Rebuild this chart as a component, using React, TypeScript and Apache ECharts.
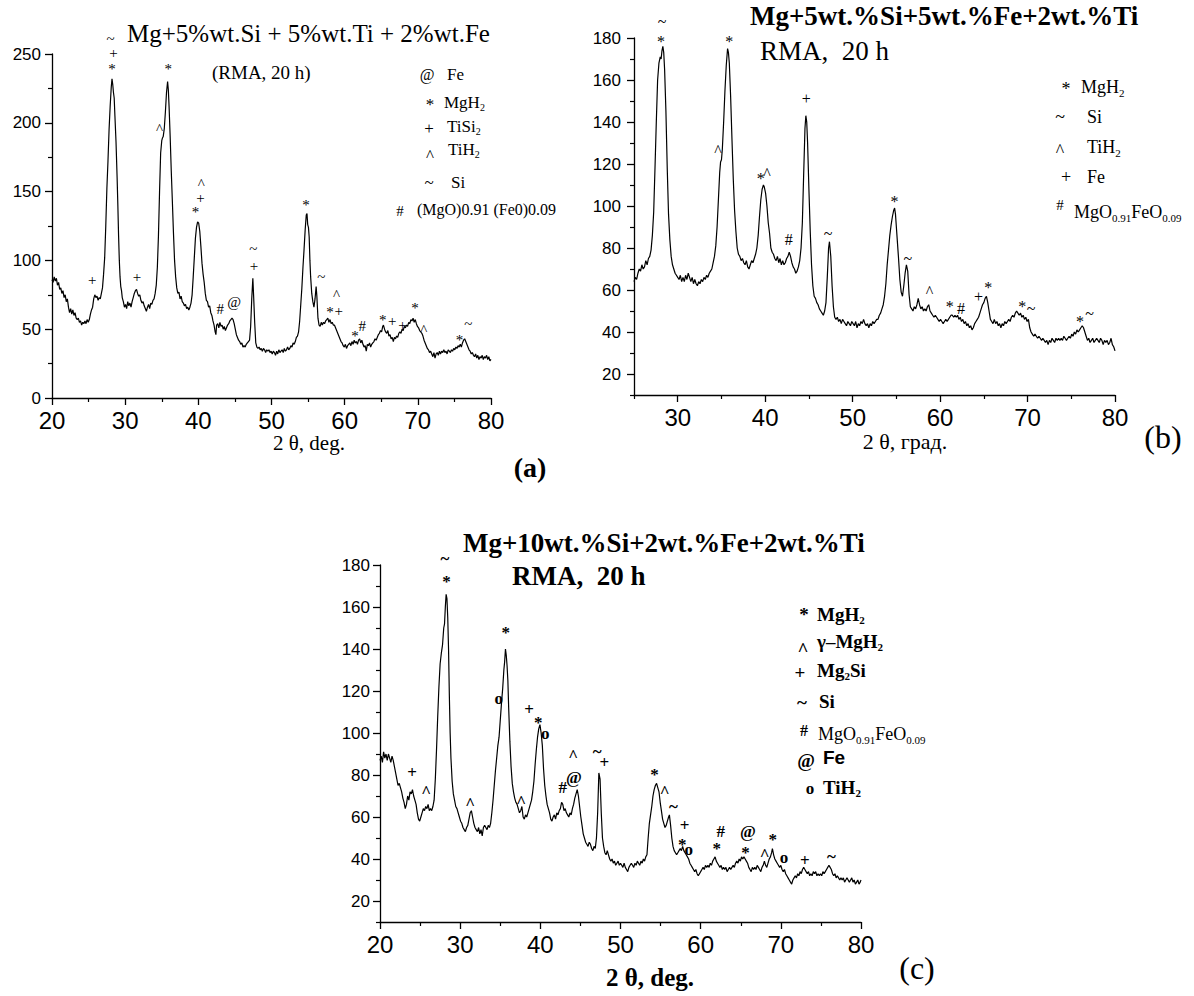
import React, { useEffect, useRef } from "react";
import * as echarts from "echarts";

const SERIF = "'Liberation Serif','Times New Roman',serif";
const SANS = "'Liberation Sans',Arial,sans-serif";

// ---------- Panel (a): Mg+5%wt.Si + 5%wt.Ti + 2%wt.Fe ----------
const scanA: [number, number][] = [
  [20.0,86],[20.15,84],[20.3,88],[20.45,85],[20.6,87],[20.75,82],[20.9,84],[21.05,79],[21.2,80],[21.35,76],[21.5,78],[21.65,73],[21.8,75],[21.95,70],[22.1,72],[22.25,66],[22.4,62],[22.55,65],[22.7,61],[22.85,64],
  [23.0,60],[23.15,62],[23.3,58],[23.45,57],[23.6,58],[23.75,55],[23.9,56],[24.05,53],[24.2,55],[24.35,54],[24.5,56],[24.65,54],[24.8,57],[24.95,55],[25.1,57],[25.25,61],[25.4,64],[25.55,66],[25.7,72],[25.85,75],
  [26.0,73],[26.15,74],[26.3,71],[26.45,73],[26.6,72],[26.75,76],[26.9,80],[27.05,90],[27.2,102],[27.35,125],[27.5,152],[27.65,172],[27.8,195],[27.95,212],[28.1,226],[28.2,232],[28.3,228],[28.4,222],[28.5,218],[28.6,205],
  [28.75,186],[28.9,160],[29.0,140],[29.1,118],[29.2,100],[29.3,88],[29.4,81],[29.5,78],[29.6,73],[29.75,70],[29.9,66],[30.05,68],[30.2,65],[30.35,70],[30.5,67],[30.65,69],[30.8,66],[30.95,70],[31.1,73],[31.25,76],
  [31.4,78],[31.55,79],[31.7,76],[31.85,74],[32.0,75],[32.15,71],[32.3,69],[32.45,70],[32.6,67],[32.75,65],[32.9,63],[33.05,66],[33.2,68],[33.35,65],[33.5,69],[33.65,68],[33.8,71],[33.95,72],[34.1,76],[34.25,82],
  [34.4,95],[34.55,118],[34.7,150],[34.85,178],[35.0,187],[35.1,189],[35.2,190],[35.35,196],[35.5,208],[35.65,222],[35.8,230],[35.9,224],[36.0,212],[36.15,190],[36.3,165],[36.45,143],[36.6,120],[36.75,100],[36.9,88],[37.05,80],
  [37.2,76],[37.35,77],[37.5,72],[37.65,74],[37.8,70],[37.95,69],[38.1,67],[38.25,68],[38.4,65],[38.55,66],[38.7,64],[38.85,66],[39.0,69],[39.15,75],[39.3,88],[39.45,102],[39.6,116],[39.75,124],[39.9,128],[40.05,127],
  [40.2,121],[40.35,110],[40.5,98],[40.65,90],[40.8,84],[40.95,76],[41.1,71],[41.25,70],[41.4,66],[41.55,67],[41.7,62],[41.85,60],[42.0,56],[42.15,53],[42.3,48],[42.4,46],[42.5,53],[42.65,54],[42.8,51],[42.95,55],
  [43.1,52],[43.25,53],[43.4,50],[43.55,52],[43.7,49],[43.85,51],[44.0,53],[44.15,54],[44.3,56],[44.45,57],[44.6,58],[44.75,57],[44.9,54],[45.05,50],[45.2,46],[45.35,44],[45.5,42],[45.65,41],[45.8,39],[45.95,40],
  [46.1,37],[46.25,38],[46.4,37],[46.55,39],[46.7,40],[46.85,41],[47.0,42],[47.15,52],[47.3,72],[47.45,87],[47.55,75],[47.7,55],[47.85,40],[48.0,37],[48.15,36],[48.3,37],[48.45,35],[48.6,36],[48.75,34],[48.9,36],
  [49.05,35],[49.2,33],[49.35,35],[49.5,34],[49.65,35],[49.8,33],[49.95,34],[50.1,32],[50.25,34],[50.4,33],[50.55,31],[50.7,34],[50.85,32],[51.0,35],[51.15,33],[51.3,34],[51.45,35],[51.6,33],[51.75,36],[51.9,34],
  [52.05,35],[52.2,37],[52.35,35],[52.5,36],[52.65,38],[52.8,37],[52.95,40],[53.1,39],[53.25,41],[53.4,44],[53.55,45],[53.7,48],[53.85,56],[54.0,68],[54.15,80],[54.3,95],[54.45,108],[54.6,122],[54.75,133],[54.85,134],
  [54.95,126],[55.05,124],[55.15,117],[55.25,100],[55.35,88],[55.5,76],[55.65,70],[55.8,66],[55.95,72],[56.1,81],[56.2,74],[56.35,58],[56.5,53],[56.65,52],[56.8,55],[56.95,53],[57.1,55],[57.25,54],[57.4,56],[57.55,57],
  [57.7,58],[57.85,55],[58.0,57],[58.15,54],[58.3,55],[58.45,53],[58.6,53],[58.75,51],[58.9,49],[59.05,47],[59.2,45],[59.35,43],[59.5,41],[59.65,40],[59.8,38],[59.95,37],[60.1,39],[60.25,36],[60.4,38],[60.55,39],
  [60.7,40],[60.85,38],[61.0,41],[61.15,39],[61.3,42],[61.45,40],[61.6,41],[61.75,39],[61.9,42],[62.05,43],[62.2,40],[62.35,42],[62.5,39],[62.65,37],[62.8,38],[62.95,34],[63.1,39],[63.25,38],[63.4,40],[63.55,37],
  [63.7,39],[63.85,40],[64.0,41],[64.15,43],[64.3,42],[64.45,44],[64.6,46],[64.75,47],[64.9,49],[65.05,48],[65.2,52],[65.3,53],[65.45,50],[65.6,48],[65.75,47],[65.9,49],[66.05,45],[66.2,46],[66.35,43],[66.5,44],
  [66.65,41],[66.8,44],[66.95,43],[67.1,45],[67.25,44],[67.4,47],[67.55,48],[67.7,47],[67.85,50],[68.0,49],[68.15,52],[68.3,51],[68.45,53],[68.6,52],[68.75,55],[68.9,54],[69.05,57],[69.2,56],[69.35,58],[69.5,55],
  [69.65,57],[69.8,54],[69.95,52],[70.1,51],[70.25,49],[70.4,48],[70.55,47],[70.7,45],[70.85,42],[71.0,40],[71.15,38],[71.3,36],[71.45,35],[71.6,33],[71.75,34],[71.9,32],[72.05,30],[72.2,33],[72.35,29],[72.5,32],
  [72.65,33],[72.8,31],[72.95,34],[73.1,32],[73.25,34],[73.4,33],[73.55,35],[73.7,33],[73.85,34],[74.0,32],[74.15,35],[74.3,34],[74.45,33],[74.6,35],[74.75,34],[74.9,36],[75.05,35],[75.2,37],[75.35,36],[75.5,38],
  [75.65,37],[75.8,39],[75.95,37],[76.1,40],[76.25,42],[76.4,43],[76.55,41],[76.7,39],[76.85,37],[77.0,35],[77.15,34],[77.3,32],[77.45,33],[77.6,31],[77.75,30],[77.9,32],[78.05,29],[78.2,31],[78.35,28],[78.5,30],
  [78.65,29],[78.8,31],[78.95,28],[79.1,30],[79.25,29],[79.4,31],[79.55,28],[79.7,30],[79.85,27],[80.0,28]
];
const markersA: [number, number, string][] = [
  [25.5,86,"+"],[31.6,88,"+"],[28.0,261,"~"],[28.4,251,"+"],[28.2,242,"*"],[35.9,242,"*"],[34.7,198,"^"],
  [39.6,138,"*"],[40.3,145,"+"],[40.4,158,"^"],[43.0,65,"#"],[44.9,70,"@"],[47.5,108,"~"],[47.6,96,"+"],
  [54.7,143,"*"],[56.8,88,"~"],[58.0,65,"*"],[58.9,77,"^"],[59.2,63,"+"],[61.4,48,"*"],[62.4,52,"#"],
  [65.2,59,"*"],[66.5,56,"+"],[67.9,53,"+"],[69.6,68,"*"],[70.8,52,"^"],[75.7,45,"*"],[76.9,54,"~"]
];
const xMajorA = [20, 30, 40, 50, 60, 70, 80];
const xMinorA = [25, 35, 45, 55, 65, 75];
const yMajorA = [0, 50, 100, 150, 200, 250];
const yMinorA = [25, 75, 125, 175, 225];

// ---------- Panel (b): Mg+5wt.%Si+5wt.%Fe+2wt.%Ti ----------
const scanB: [number, number][] = [
  [25.0,64],[25.15,66],[25.3,65],[25.45,68],[25.6,70],[25.75,69],[25.9,72],[26.05,70],[26.2,71],[26.35,74],[26.5,72],[26.65,75],[26.8,76],[26.95,79],[27.1,86],[27.25,97],[27.4,118],[27.55,140],[27.7,160],[27.85,168],
  [28.0,171],[28.1,170],[28.2,174],[28.3,176],[28.4,173],[28.5,165],[28.65,145],[28.8,118],[28.95,96],[29.1,84],[29.25,76],[29.4,72],[29.55,70],[29.7,68],[29.85,67],[30.0,66],[30.15,65],[30.3,67],[30.45,64],[30.6,66],
  [30.75,64],[30.9,67],[31.05,65],[31.2,68],[31.35,66],[31.5,64],[31.65,66],[31.8,63],[31.95,65],[32.1,63],[32.25,62],[32.4,64],[32.55,63],[32.7,65],[32.85,64],[33.0,66],[33.15,65],[33.3,67],[33.45,66],[33.6,68],
  [33.75,69],[33.9,70],[34.05,73],[34.2,76],[34.35,81],[34.5,90],[34.65,103],[34.8,116],[34.9,121],[35.0,122],[35.1,127],[35.25,140],[35.4,155],[35.55,167],[35.7,175],[35.8,173],[35.9,168],[36.05,152],[36.2,132],[36.35,113],
  [36.5,98],[36.65,88],[36.8,80],[36.95,77],[37.1,76],[37.25,74],[37.4,75],[37.55,73],[37.7,72],[37.85,74],[38.0,71],[38.15,70],[38.3,72],[38.45,74],[38.6,73],[38.75,75],[38.9,77],[39.05,80],[39.2,86],[39.35,95],
  [39.5,103],[39.65,108],[39.8,110],[39.9,109],[40.05,106],[40.2,100],[40.35,92],[40.5,87],[40.65,80],[40.8,78],[40.95,77],[41.1,75],[41.25,74],[41.4,76],[41.55,73],[41.7,75],[41.85,72],[42.0,74],[42.15,72],[42.3,73],
  [42.45,75],[42.6,76],[42.75,78],[42.9,76],[43.05,73],[43.2,71],[43.35,70],[43.5,68],[43.65,69],[43.8,71],[43.95,74],[44.1,80],[44.25,92],[44.4,115],[44.55,137],[44.65,143],[44.75,140],[44.85,130],[45.0,108],[45.15,88],
  [45.3,72],[45.45,62],[45.6,57],[45.75,56],[45.9,54],[46.05,53],[46.2,51],[46.35,50],[46.5,49],[46.65,48],[46.8,50],[46.95,54],[47.1,66],[47.25,80],[47.35,83],[47.5,76],[47.65,62],[47.8,52],[47.95,47],[48.1,46],
  [48.25,47],[48.4,45],[48.55,46],[48.7,44],[48.85,46],[49.0,45],[49.15,44],[49.3,43],[49.45,45],[49.6,44],[49.75,43],[49.9,45],[50.05,44],[50.2,43],[50.35,45],[50.5,42],[50.65,44],[50.8,43],[50.95,45],[51.1,44],
  [51.25,46],[51.4,44],[51.55,43],[51.7,44],[51.85,42],[52.0,44],[52.15,43],[52.3,45],[52.45,44],[52.6,45],[52.75,46],[52.9,46],[53.05,48],[53.2,49],[53.35,51],[53.5,53],[53.65,57],[53.8,63],[53.95,72],[54.1,79],
  [54.25,86],[54.4,91],[54.55,95],[54.7,98],[54.8,99],[54.9,96],[55.0,90],[55.1,84],[55.25,75],[55.4,65],[55.55,59],[55.7,57],[55.85,62],[56.0,68],[56.15,72],[56.3,69],[56.45,58],[56.6,52],[56.75,51],[56.9,50],
  [57.05,52],[57.2,51],[57.35,53],[57.5,56],[57.65,53],[57.8,51],[57.95,52],[58.1,50],[58.25,51],[58.4,50],[58.55,52],[58.7,53],[58.85,50],[59.0,49],[59.15,48],[59.3,47],[59.45,48],[59.6,47],[59.75,46],[59.9,45],
  [60.05,46],[60.2,45],[60.35,44],[60.5,45],[60.65,46],[60.8,45],[60.95,46],[61.1,47],[61.25,48],[61.4,48],[61.55,47],[61.7,48],[61.85,47],[62.0,48],[62.15,46],[62.3,47],[62.45,45],[62.6,46],[62.75,44],[62.9,45],
  [63.05,43],[63.2,44],[63.35,42],[63.5,43],[63.65,41],[63.8,42],[63.95,44],[64.1,45],[64.25,46],[64.4,47],[64.55,49],[64.7,51],[64.85,53],[65.0,54],[65.15,56],[65.3,57],[65.45,54],[65.6,50],[65.75,46],[65.9,45],
  [66.05,44],[66.2,46],[66.35,44],[66.5,45],[66.65,43],[66.8,44],[66.95,42],[67.1,44],[67.25,43],[67.4,45],[67.55,44],[67.7,45],[67.85,46],[68.0,45],[68.15,47],[68.3,48],[68.45,47],[68.6,49],[68.75,50],[68.9,49],
  [69.05,48],[69.2,49],[69.35,47],[69.5,48],[69.65,46],[69.8,47],[69.95,45],[70.1,46],[70.25,42],[70.4,40],[70.55,39],[70.7,38],[70.85,39],[71.0,38],[71.15,37],[71.3,38],[71.45,37],[71.6,36],[71.75,37],[71.9,36],
  [72.05,35],[72.2,36],[72.35,34],[72.5,36],[72.65,35],[72.8,37],[72.95,36],[73.1,35],[73.25,37],[73.4,36],[73.55,37],[73.7,36],[73.85,37],[74.0,36],[74.15,38],[74.3,37],[74.45,36],[74.6,37],[74.75,38],[74.9,37],
  [75.05,39],[75.2,38],[75.35,40],[75.5,39],[75.65,41],[75.8,40],[75.95,41],[76.1,42],[76.25,43],[76.4,42],[76.55,40],[76.7,38],[76.85,36],[77.0,37],[77.15,35],[77.3,36],[77.45,37],[77.6,35],[77.75,36],[77.9,37],
  [78.05,36],[78.2,35],[78.35,37],[78.5,36],[78.65,34],[78.8,36],[78.95,35],[79.1,36],[79.25,34],[79.4,35],[79.55,37],[79.7,34],[79.85,33],[80.0,31]
];
const markersB: [number, number, string][] = [
  [28.2,188,"~"],[28.1,180,"*"],[35.9,180,"*"],[34.6,128,"^"],[39.5,115,"*"],[40.2,117,"^"],[44.7,151,"+"],
  [42.7,84,"#"],[47.2,87,"~"],[54.8,104,"*"],[56.3,75,"~"],[58.8,61,"^"],[61.1,54,"*"],[62.4,51,"#"],
  [64.4,57,"+"],[65.5,63,"*"],[69.4,54,"*"],[70.4,51,"~"],[76.0,47,"*"],[77.1,49,"~"]
];
const xMajorB = [30, 40, 50, 60, 70, 80];
const xMinorB = [25, 35, 45, 55, 65, 75];
const yMajorB = [20, 40, 60, 80, 100, 120, 140, 160, 180];
const yMinorB = [10, 30, 50, 70, 90, 110, 130, 150, 170];

// ---------- Panel (c): Mg+10wt.%Si+2wt.%Fe+2wt.%Ti ----------
const scanC: [number, number][] = [
  [20.0,87],[20.15,89],[20.3,86],[20.45,91],[20.6,88],[20.75,90],[20.9,87],[21.05,90],[21.2,88],[21.35,86],[21.5,89],[21.65,87],[21.8,84],[21.95,81],[22.1,78],[22.25,75],[22.4,76],[22.55,74],[22.7,72],[22.85,69],
  [23.0,67],[23.15,64],[23.3,66],[23.45,70],[23.6,68],[23.75,72],[23.9,71],[24.05,73],[24.2,70],[24.35,68],[24.5,66],[24.65,62],[24.8,59],[24.95,58],[25.1,60],[25.25,62],[25.4,64],[25.55,63],[25.7,65],[25.85,64],
  [26.0,66],[26.15,63],[26.3,64],[26.45,63],[26.6,65],[26.75,68],[26.9,78],[27.05,92],[27.2,108],[27.35,122],[27.5,133],[27.65,138],[27.8,142],[27.95,150],[28.05,152],[28.15,160],[28.25,166],[28.35,164],[28.45,155],[28.55,140],
  [28.65,118],[28.75,100],[28.85,88],[29.0,77],[29.15,71],[29.3,68],[29.45,65],[29.6,64],[29.75,62],[29.9,60],[30.05,58],[30.2,57],[30.35,55],[30.5,54],[30.65,53],[30.8,55],[30.95,56],[31.1,59],[31.25,62],[31.4,63],
  [31.55,60],[31.7,57],[31.85,55],[32.0,54],[32.15,53],[32.3,55],[32.45,52],[32.6,54],[32.75,51],[32.9,55],[33.05,56],[33.2,55],[33.35,54],[33.5,56],[33.65,55],[33.8,57],[33.95,62],[34.1,68],[34.25,75],[34.4,82],
  [34.55,88],[34.7,94],[34.85,98],[35.0,106],[35.15,114],[35.3,121],[35.45,130],[35.55,134],[35.65,140],[35.75,137],[35.85,132],[35.95,125],[36.05,112],[36.2,96],[36.35,84],[36.5,76],[36.65,72],[36.8,69],[36.95,67],[37.1,66],
  [37.25,64],[37.4,62],[37.55,63],[37.7,65],[37.85,60],[38.0,59],[38.15,61],[38.3,60],[38.45,62],[38.6,64],[38.75,66],[38.9,68],[39.05,72],[39.2,77],[39.35,85],[39.5,92],[39.65,98],[39.8,102],[39.95,104],[40.1,100],
  [40.25,94],[40.4,83],[40.55,75],[40.7,70],[40.85,66],[41.0,64],[41.15,62],[41.3,59],[41.45,58],[41.6,60],[41.75,61],[41.9,59],[42.05,62],[42.2,61],[42.35,63],[42.5,64],[42.65,67],[42.8,66],[42.95,63],[43.1,64],
  [43.25,62],[43.4,61],[43.55,60],[43.7,62],[43.85,61],[44.0,64],[44.15,66],[44.3,69],[44.45,71],[44.6,73],[44.75,70],[44.9,65],[45.05,60],[45.2,56],[45.35,52],[45.5,50],[45.65,48],[45.8,47],[45.95,46],[46.1,48],
  [46.25,47],[46.4,45],[46.55,44],[46.7,46],[46.85,45],[47.0,50],[47.15,62],[47.3,81],[47.45,78],[47.6,62],[47.75,50],[47.9,46],[48.05,43],[48.2,42],[48.35,44],[48.5,42],[48.65,40],[48.8,39],[48.95,40],[49.1,38],
  [49.25,39],[49.4,37],[49.55,38],[49.7,39],[49.85,37],[50.0,38],[50.15,37],[50.3,36],[50.45,38],[50.6,36],[50.75,35],[50.9,34],[51.05,36],[51.2,37],[51.35,38],[51.5,37],[51.65,36],[51.8,38],[51.95,37],[52.1,39],
  [52.25,38],[52.4,37],[52.55,39],[52.7,38],[52.85,40],[53.0,39],[53.15,41],[53.3,42],[53.45,50],[53.6,57],[53.75,61],[53.9,65],[54.05,70],[54.2,73],[54.35,75],[54.5,76],[54.65,74],[54.8,72],[54.95,67],[55.1,63],
  [55.25,59],[55.4,57],[55.55,55],[55.7,56],[55.85,58],[56.0,60],[56.1,61],[56.25,56],[56.4,50],[56.55,46],[56.7,44],[56.85,43],[57.0,42],[57.15,43],[57.3,44],[57.45,45],[57.6,44],[57.75,46],[57.9,44],[58.05,43],
  [58.2,42],[58.35,41],[58.5,40],[58.65,38],[58.8,37],[58.95,36],[59.1,35],[59.25,34],[59.4,35],[59.55,33],[59.7,32],[59.85,33],[60.0,34],[60.15,35],[60.3,36],[60.45,35],[60.6,37],[60.75,36],[60.9,37],[61.05,36],
  [61.2,38],[61.35,37],[61.5,39],[61.65,40],[61.8,41],[61.95,39],[62.1,38],[62.25,37],[62.4,36],[62.55,37],[62.7,35],[62.85,36],[63.0,35],[63.15,36],[63.3,34],[63.45,35],[63.6,36],[63.75,35],[63.9,36],[64.05,37],
  [64.2,36],[64.35,38],[64.5,39],[64.65,38],[64.8,40],[64.95,39],[65.1,41],[65.25,40],[65.4,41],[65.55,40],[65.7,39],[65.85,38],[66.0,36],[66.15,35],[66.3,34],[66.45,36],[66.6,35],[66.75,36],[66.9,35],[67.05,37],
  [67.2,36],[67.35,35],[67.5,34],[67.65,36],[67.8,37],[67.95,39],[68.1,37],[68.25,36],[68.4,38],[68.55,40],[68.7,41],[68.85,43],[68.95,45],[69.1,42],[69.25,40],[69.4,39],[69.55,38],[69.7,37],[69.85,36],[70.0,37],
  [70.15,35],[70.3,34],[70.45,35],[70.6,33],[70.75,32],[70.9,31],[71.05,30],[71.2,29],[71.35,28],[71.5,30],[71.65,31],[71.8,32],[71.95,31],[72.1,33],[72.25,32],[72.4,34],[72.55,33],[72.7,35],[72.85,36],[73.0,35],
  [73.15,34],[73.3,33],[73.45,34],[73.6,32],[73.75,33],[73.9,32],[74.05,34],[74.2,33],[74.35,34],[74.5,32],[74.65,33],[74.8,32],[74.95,33],[75.1,32],[75.25,34],[75.4,33],[75.55,34],[75.7,35],[75.85,36],[76.0,37],
  [76.15,36],[76.3,35],[76.45,33],[76.6,32],[76.75,33],[76.9,31],[77.05,32],[77.2,31],[77.35,30],[77.5,31],[77.65,30],[77.8,31],[77.95,29],[78.1,30],[78.25,31],[78.4,30],[78.55,29],[78.7,30],[78.85,31],[79.0,29],
  [79.15,30],[79.3,28],[79.45,29],[79.6,30],[79.75,28],[79.9,29],[80.0,30]
];
const markersC: [number, number, string][] = [
  [28.1,183,"~"],[28.3,174,"*"],[35.7,150,"*"],[34.8,116,"o"],[38.6,111,"+"],[39.75,107,"*"],[40.6,99,"o"],
  [24.0,81,"+"],[25.75,74,"^"],[31.25,68,"^"],[37.6,69,"^"],[42.8,74,"#"],[44.2,79,"@"],[44.1,91,"^"],
  [47.1,91,"~"],[48.0,86,"+"],[54.25,82,"*"],[55.5,74,"^"],[56.6,65,"~"],[58.0,56,"+"],[57.7,49,"*"],
  [58.5,44,"o"],[62.5,53,"#"],[62.0,47,"*"],[65.9,53,"@"],[65.6,45,"*"],[68.0,44,"^"],[69.0,51,"*"],
  [70.4,40,"o"],[73.0,39.5,"+"],[76.3,41,"~"]
];
const xMajorC = [20, 30, 40, 50, 60, 70, 80];
const xMinorC = [25, 35, 45, 55, 65, 75];
const yMajorC = [20, 40, 60, 80, 100, 120, 140, 160, 180];
const yMinorC = [10, 30, 50, 70, 90, 110, 130, 150, 170];

// ---------- helpers ----------
const glyphShift = (s: string, fs: number) =>
  s === "*" ? fs * 0.24 : s === "^" ? fs * 0.22 : s === "o" ? -fs * 0.08 : 0;

function mainAxis(gridIndex: number, min: number, max: number, major: number[], isX: boolean, fontSize: number, margin: number) {
  return {
    type: "value", gridIndex, min, max, position: isX ? "bottom" : "left",
    axisLine: { show: true, onZero: false, lineStyle: { color: "#000", width: 1.3 } },
    axisTick: { show: true, inside: false, length: 7, customValues: major, lineStyle: { color: "#000", width: 1.3 } },
    axisLabel: { show: true, customValues: major, fontSize, fontFamily: SANS, color: "#000", margin },
    splitLine: { show: false },
  };
}
function minorAxis(gridIndex: number, min: number, max: number, minor: number[], isX: boolean) {
  return {
    type: "value", gridIndex, min, max, position: isX ? "bottom" : "left",
    axisLine: { show: false, onZero: false },
    axisTick: { show: true, inside: false, length: 4, customValues: minor, lineStyle: { color: "#000", width: 1.2 } },
    axisLabel: { show: false },
    splitLine: { show: false },
  };
}
function markerSeries(idx: number, markers: [number, number, string][], fs: number, bold: boolean) {
  const labelBase = {
    show: true, position: "inside", color: "#000", fontSize: fs, fontFamily: SERIF,
    fontWeight: bold ? "bold" : "normal", textBorderWidth: 0, textBorderColor: "transparent",
    textShadowBlur: 0,
  };
  return {
    type: "scatter", xAxisIndex: idx, yAxisIndex: idx, silent: true, clip: false, z: 5,
    symbol: "circle", symbolSize: 1, itemStyle: { color: "rgba(0,0,0,0)", opacity: 1 },
    emphasis: { disabled: true },
    data: markers.map((m) => ({
      value: m,
      itemStyle: { color: "rgba(0,0,0,0)" },
      label: { ...labelBase, offset: [0, glyphShift(m[2], fs)] },
    })),
    label: { ...labelBase, formatter: (p: any) => p.value[2] },
  };
}
function txt(x: number, y: number, text: string, fontSize: number, opts: any = {}) {
  const { weight = "normal", family = SERIF, align = "left", rich } = opts;
  return {
    type: "text", x, y, silent: true, z: 10,
    style: { text, fill: "#000", fontSize, fontFamily: family, fontWeight: weight, align, verticalAlign: "middle", rich },
  };
}
function subRich(fs: number, weight = "normal", family = SERIF) {
  return {
    m: { fontSize: fs, fontFamily: family, fontWeight: weight, lineHeight: fs + 4, verticalAlign: "middle", fill: "#000" },
    s: { fontSize: Math.round(fs * 0.6), fontFamily: family, fontWeight: weight, lineHeight: 8, verticalAlign: "bottom", fill: "#000" },
  };
}
function glyph(x: number, y: number, s: string, fs: number, weight = "normal") {
  return txt(x, y + glyphShift(s, fs), s, fs, { weight, align: "center" });
}

export default function App() {
  const ref = useRef<HTMLDivElement>(null);
  useEffect(() => {
    if (!ref.current) return;
    const chart = echarts.init(ref.current, undefined, { renderer: "svg" });
    const richA = subRich(17);
    const richB = subRich(18);
    const richC = subRich(19, "bold");
    const richCn = subRich(18);
    const option: any = {
      animation: false,
      backgroundColor: "#fff",
      grid: [
        { left: 52, top: 54, width: 439, height: 344 },
        { left: 634, top: 38, width: 481, height: 357 },
        { left: 380, top: 565, width: 481, height: 357 },
      ],
      xAxis: [
        mainAxis(0, 20, 80, xMajorA, true, 24, 10), minorAxis(0, 20, 80, xMinorA, true),
        mainAxis(1, 25, 80, xMajorB, true, 24, 10), minorAxis(1, 25, 80, xMinorB, true),
        mainAxis(2, 20, 80, xMajorC, true, 24, 10), minorAxis(2, 20, 80, xMinorC, true),
      ],
      yAxis: [
        mainAxis(0, 0, 250, yMajorA, false, 17, 11), minorAxis(0, 0, 250, yMinorA, false),
        mainAxis(1, 10, 180, yMajorB, false, 17, 13), minorAxis(1, 10, 180, yMinorB, false),
        mainAxis(2, 10, 180, yMajorC, false, 17, 10), minorAxis(2, 10, 180, yMinorC, false),
      ],
      series: [
        { type: "line", xAxisIndex: 0, yAxisIndex: 0, data: scanA, showSymbol: false, symbol: "none", silent: true, lineStyle: { color: "#000", width: 1.2 } },
        { type: "line", xAxisIndex: 2, yAxisIndex: 2, data: scanB, showSymbol: false, symbol: "none", silent: true, lineStyle: { color: "#000", width: 1.2 } },
        { type: "line", xAxisIndex: 4, yAxisIndex: 4, data: scanC, showSymbol: false, symbol: "none", silent: true, lineStyle: { color: "#000", width: 1.2 } },
        markerSeries(0, markersA, 15, false),
        markerSeries(2, markersB, 16, false),
        markerSeries(4, markersC, 17, true),
      ],
      graphic: [
        // ----- panel (a)
        txt(127, 33, "Mg+5%wt.Si + 5%wt.Ti + 2%wt.Fe", 25),
        txt(212, 72, "(RMA, 20 h)", 19),
        glyph(427, 74, "@", 16), txt(447, 74, "Fe", 17),
        glyph(430, 100, "*", 17), txt(444, 102, "{m|MgH}{s|2}", 17, { rich: richA }),
        glyph(429, 128, "+", 17), txt(447, 126, "{m|TiSi}{s|2}", 17, { rich: richA }),
        glyph(430, 152, "^", 17), txt(448, 149, "{m|TiH}{s|2}", 17, { rich: richA }),
        glyph(429, 182, "~", 17), txt(451, 182, "Si", 17),
        glyph(400, 211, "#", 15), txt(417, 209, "(MgO)0.91 (Fe0)0.09", 16),
        txt(309, 443, "2 θ, deg.", 21, { align: "center" }),
        txt(530, 467, "(a)", 28, { weight: "bold", align: "center" }),
        // ----- panel (b)
        txt(750, 16, "Mg+5wt.%Si+5wt.%Fe+2wt.%Ti", 27, { weight: "bold" }),
        txt(760, 51, "RMA,  20 h", 27),
        glyph(1066, 85, "*", 18), txt(1081, 87, "{m|MgH}{s|2}", 18, { rich: richB }),
        glyph(1060, 117, "~", 18), txt(1087, 117, "Si", 18),
        glyph(1060, 147, "^", 18), txt(1087, 147, "{m|TiH}{s|2}", 18, { rich: richB }),
        glyph(1066, 177, "+", 18), txt(1087, 177, "Fe", 18),
        glyph(1060, 205, "#", 15), txt(1074, 212, "{m|MgO}{s|0.91}{m|FeO}{s|0.09}", 18, { rich: richB }),
        txt(905, 441, "2 θ, град.", 22, { align: "center" }),
        txt(1163, 437, "(b)", 32, { align: "center" }),
        // ----- panel (c)
        txt(463, 543, "Mg+10wt.%Si+2wt.%Fe+2wt.%Ti", 27, { weight: "bold" }),
        txt(512, 576, "RMA,  20 h", 27, { weight: "bold" }),
        glyph(804, 610, "*", 19, "bold"), txt(817, 614, "{m|MgH}{s|2}", 19, { rich: richC }),
        glyph(803, 645, "^", 19, "bold"), txt(817, 641, "{m|γ–MgH}{s|2}", 19, { rich: richC }),
        glyph(800, 672, "+", 19, "bold"), txt(817, 670, "{m|Mg}{s|2}{m|Si}", 19, { rich: richC }),
        glyph(802, 702, "~", 19, "bold"), txt(819, 701, "Si", 19, { weight: "bold" }),
        glyph(804, 730, "#", 16, "bold"), txt(818, 734, "{m|MgO}{s|0.91}{m|FeO}{s|0.09}", 18, { rich: richCn }),
        glyph(806, 760, "@", 19, "bold"), txt(823, 757, "Fe", 19, { weight: "bold", family: SANS }),
        glyph(810, 790, "o", 17, "bold"), txt(823, 787, "{m|TiH}{s|2}", 19, { rich: richC }),
        txt(650, 977, "2 θ, deg.", 25, { weight: "bold", align: "center" }),
        txt(917, 968, "(c)", 32, { align: "center" }),
      ],
    };
    chart.setOption(option);
    return () => chart.dispose();
  }, []);
  return (
    <div
      ref={ref}
      style={{ position: "fixed", left: 0, top: 0, width: 1194, height: 996, background: "#fff" }}
    />
  );
}
